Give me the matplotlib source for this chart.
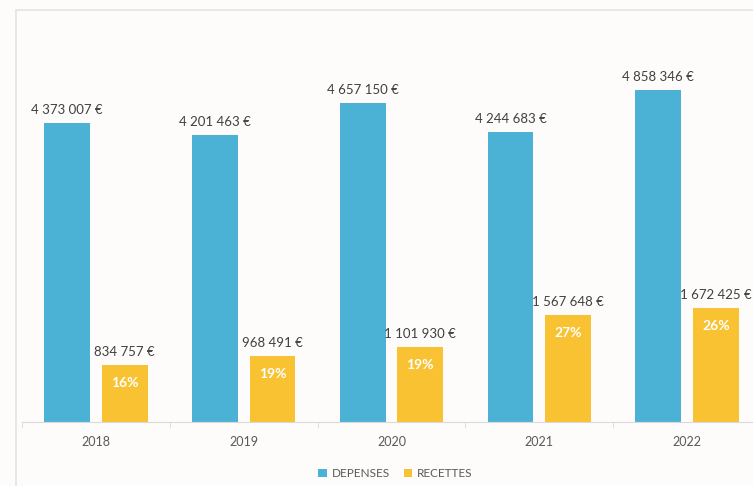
import numpy as np
import matplotlib.pyplot as plt
from matplotlib.patches import Rectangle

years = ["2018", "2019", "2020", "2021", "2022"]
depenses = [4373007, 4201463, 4657150, 4244683, 4858346]
recettes = [834757, 968491, 1101930, 1567648, 1672425]
parts = ["16%", "19%", "19%", "27%", "26%"]

blue = "#4bb2d6"
yellow = "#f9c233"
grey_txt = "#404040"

def euro(v):
    return f"{v:,}".replace(",", " ") + " €"

plt.rcParams['font.family'] = ['Lato', 'DejaVu Sans']

fig = plt.figure(figsize=(7.53, 4.86), dpi=100, facecolor="#fdfcfa")
ax = fig.add_axes([22 / 753, 1 - 422 / 486, (761 - 22) / 753, (422 - 30) / 486])
ax.set_facecolor("#fdfcfa")

x = np.arange(len(years))
w = 0.31
off = 0.195
b1 = ax.bar(x - off, depenses, w, color=blue, label="DEPENSES")
b2 = ax.bar(x + off, recettes, w, color=yellow, label="RECETTES")

for rect, v in zip(b1, depenses):
    ax.annotate(euro(v), (rect.get_x() + rect.get_width() / 2, v), xytext=(0, 5),
                textcoords="offset points", ha="center", va="bottom",
                fontsize=9.5, color=grey_txt, annotation_clip=False)
for rect, v, p in zip(b2, recettes, parts):
    cx = rect.get_x() + rect.get_width() / 2
    ax.annotate(euro(v), (cx, v), xytext=(0, 5), textcoords="offset points",
                ha="center", va="bottom", fontsize=9.5, color=grey_txt, annotation_clip=False)
    ax.annotate(p, (cx, v), xytext=(0, -13), textcoords="offset points",
                ha="center", va="center", fontsize=10, color="white", fontweight="bold")

ax.set_xlim(-0.5, len(years) - 0.5)
ax.set_ylim(0, 5730000)
ax.set_yticks([])
ax.set_xticks(x)
ax.set_xticklabels(years, fontsize=9, color="#595959")
ax.tick_params(axis="x", length=0, pad=10)
ax.set_xticks(np.arange(-0.5, len(years)), minor=True)
ax.tick_params(axis="x", which="minor", length=4, color="#d9d9d9")
for s in ["top", "right", "left"]:
    ax.spines[s].set_visible(False)
ax.spines["bottom"].set_color("#d9d9d9")

# chart frame, cut by the image edges
fig.add_artist(Rectangle((16 / 753, -0.1), 1.2, 1 - 10 / 486 + 0.1, transform=fig.transFigure,
                         fill=False, edgecolor="#e3e3e3", linewidth=1.2, clip_on=False))

fig.legend(loc="center", bbox_to_anchor=(0.525, 0.025), ncol=2, frameon=False,
           fontsize=8.5, labelcolor="#595959", handlelength=0.7, handleheight=0.7,
           handletextpad=0.4, columnspacing=1.2)

fig.savefig("out.png", dpi=100, facecolor=fig.get_facecolor())
